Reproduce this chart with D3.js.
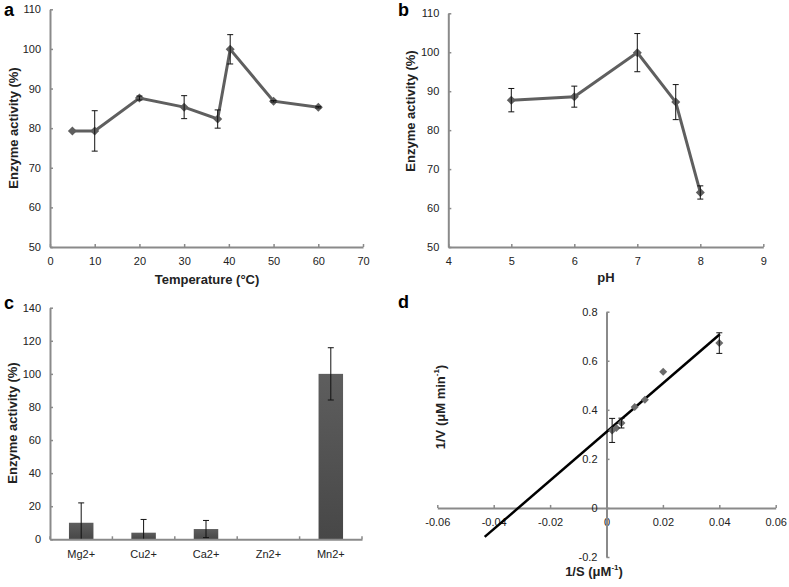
<!DOCTYPE html>
<html><head><meta charset="utf-8">
<script src="https://cdn.jsdelivr.net/npm/d3@7"></script>
<style>
body{margin:0;background:#fff;}
text{font-family:Arial,"Liberation Sans",sans-serif;}
</style></head>
<body>
<svg id="chart" width="789" height="587"></svg>
<script>
// Panel a: temperature
const tempX = [5, 10, 20, 30, 37.5, 40.3, 50, 60];
const tempY = [79.3, 79.3, 87.6, 85.3, 82.3, 99.9, 86.8, 85.3];
const tempErr = [0, 5.1, 0.5, 2.9, 2.3, 3.7, 0.2, 0.2];
const tempTicksX = [0, 10, 20, 30, 40, 50, 60, 70];
const actTicksY = [50, 60, 70, 80, 90, 100, 110];
// Panel b: pH
const phX = [5, 6, 7, 7.61, 8];
const phY = [87.7, 88.6, 99.9, 87.2, 64.0];
const phErr = [3.0, 2.7, 4.9, 4.5, 1.7];
const phTicksX = [4, 5, 6, 7, 8, 9];
// Panel c: metal ions
const ions = ["Mg2+", "Cu2+", "Ca2+", "Zn2+", "Mn2+"];
const ionY = [10, 4, 6.2, 0, 100];
const ionErr = [12, 8, 5.2, 0, 15.8];
const ionTicksY = [0, 20, 40, 60, 80, 100, 120, 140];
// Panel d: Lineweaver-Burk
const lbX = [0.002, 0.0035, 0.0053, 0.010, 0.0136, 0.0201, 0.040];
const lbY = [0.316, 0.326, 0.346, 0.411, 0.441, 0.555, 0.672];
const lbErr = [0.049, 0, 0.02, 0, 0, 0, 0.042];
const lbFitX = [-0.0432, 0.0402];
const lbFitY = [-0.118, 0.708];
const lbTicksX = [-0.06, -0.04, -0.02, 0, 0.02, 0.04, 0.06];
const lbTicksY = [-0.2, 0, 0.2, 0.4, 0.6, 0.8];

const svg = d3.select("#chart");
const AX = "#8a8a8a", TXT = "#222", LINE = "#5f5f5f";

function diamond(r){ return `M0,${-r}L${r},0L0,${r}L${-r},0Z`; }

function styleAxis(g){
  g.select(".domain").attr("stroke", AX).attr("stroke-width", 2);
  g.selectAll(".tick line").attr("stroke", AX).attr("stroke-width", 1.5);
  g.selectAll(".tick text").attr("fill", TXT).style("font-size", "11px").style("font-family", "Arial, 'Liberation Sans', sans-serif");
}

function errBars(g, xs, ys, es, x, y, cap){
  xs.forEach((xv, i) => {
    if (!es[i]) return;
    const px = x(xv), y1 = y(ys[i] + es[i]);
    const lo = y(ys[i] - es[i]) > y.range()[0] ? y.range()[0] : y(ys[i] - es[i]);
    g.append("line").attr("x1", px).attr("x2", px).attr("y1", y1).attr("y2", lo).attr("stroke", "#111").attr("stroke-width", 1);
    g.append("line").attr("x1", px - cap).attr("x2", px + cap).attr("y1", y1).attr("y2", y1).attr("stroke", "#111").attr("stroke-width", 1);
    if (y(ys[i] - es[i]) <= y.range()[0])
      g.append("line").attr("x1", px - cap).attr("x2", px + cap).attr("y1", lo).attr("y2", lo).attr("stroke", "#111").attr("stroke-width", 1);
  });
}

function panelLabel(x, y, t){
  svg.append("text").attr("x", x).attr("y", y).text(t).attr("font-weight", "bold").style("font-size", "18px").attr("fill", "#000");
}
function yTitle(cx, cy, t){
  return svg.append("text").attr("transform", `translate(${cx},${cy}) rotate(-90)`).attr("text-anchor", "middle")
    .attr("dominant-baseline", "central").attr("font-weight", "bold").style("font-size", "13px").attr("fill", TXT).text(t);
}
function xTitle(cx, cy, t){
  return svg.append("text").attr("x", cx).attr("y", cy).attr("text-anchor", "middle")
    .attr("dominant-baseline", "central").attr("font-weight", "bold").style("font-size", "13px").attr("fill", TXT).text(t);
}

function linePanel(xs, ys, es, xTicks, xr, yr, xd){
  const x = d3.scaleLinear().domain(xd).range(xr);
  const y = d3.scaleLinear().domain([50, 110]).range(yr);
  const gx = svg.append("g").attr("transform", `translate(0,${yr[0]})`)
    .call(d3.axisBottom(x).tickValues(xTicks).tickSizeInner(-3).tickSizeOuter(0).tickPadding(10).tickFormat(d3.format("d")));
  styleAxis(gx);
  const gy = svg.append("g").attr("transform", `translate(${xr[0]},0)`)
    .call(d3.axisLeft(y).tickValues(actTicksY).tickSizeInner(-3).tickSizeOuter(0).tickPadding(9));
  styleAxis(gy);
  const g = svg.append("g");
  g.append("path").datum(xs.map((v, i) => [v, ys[i]]))
    .attr("d", d3.line().x(d => x(d[0])).y(d => y(d[1])))
    .attr("fill", "none").attr("stroke", LINE).attr("stroke-width", 3);
  g.selectAll(".m").data(xs).enter().append("path")
    .attr("transform", (d, i) => `translate(${x(d)},${y(ys[i])})`)
    .attr("d", diamond(4.5)).attr("fill", LINE);
  errBars(g, xs, ys, es, x, y, 3);
}

// Panel a
linePanel(tempX, tempY, tempErr, tempTicksX, [50, 363], [247, 9.3], [0, 70]);
panelLabel(4, 16, "a");
yTitle(13, 128, "Enzyme activity (%)");
xTitle(207, 279, "Temperature (°C)");

// Panel b
linePanel(phX, phY, phErr, phTicksX, [448.3, 763.3], [247, 13.3], [4, 9]);
panelLabel(398, 16, "b");
yTitle(410, 111, "Enzyme activity (%)");
xTitle(606, 277, "pH");

// Panel c
{
  const x = d3.scaleBand().domain(ions).range([50, 362]).paddingInner(0).paddingOuter(0);
  const y = d3.scaleLinear().domain([0, 140]).range([539.3, 307.7]);
  const defs = svg.append("defs");
  const grad = defs.append("linearGradient").attr("id", "barg").attr("x1", 0).attr("x2", 0).attr("y1", 0).attr("y2", 1);
  grad.append("stop").attr("offset", "0%").attr("stop-color", "#5e5e5e");
  grad.append("stop").attr("offset", "100%").attr("stop-color", "#474747");
  const g = svg.append("g");
  const bw = 24.5;
  g.selectAll("rect").data(ions).enter().append("rect")
    .attr("x", d => x(d) + x.bandwidth() / 2 - bw / 2)
    .attr("width", bw)
    .attr("y", (d, i) => y(ionY[i]))
    .attr("height", (d, i) => y(0) - y(ionY[i]))
    .attr("fill", "url(#barg)");
  const gx = svg.append("g").attr("transform", `translate(0,${y(0)})`)
    .call(d3.axisBottom(x).tickSize(0).tickPadding(11));
  styleAxis(gx);
  const bounds = ions.map(d => x(d)).concat([x.range()[1]]);
  gx.selectAll(".bt").data(bounds).enter().append("line")
    .attr("x1", d => d).attr("x2", d => d).attr("y1", -3).attr("y2", 0).attr("stroke", AX).attr("stroke-width", 1.5);
  const gy = svg.append("g").attr("transform", `translate(50,0)`)
    .call(d3.axisLeft(y).tickValues(ionTicksY).tickSizeInner(-3).tickSizeOuter(0).tickPadding(9));
  styleAxis(gy);
  const cx = ions.map(d => x(d) + x.bandwidth() / 2);
  ions.forEach((d, i) => {
    if (!ionErr[i]) return;
    const px = cx[i], top = y(ionY[i] + ionErr[i]);
    const lowV = ionY[i] - ionErr[i];
    const bot = y(Math.max(lowV, 0));
    g.append("line").attr("x1", px).attr("x2", px).attr("y1", top).attr("y2", bot).attr("stroke", "#111");
    g.append("line").attr("x1", px - 3).attr("x2", px + 3).attr("y1", top).attr("y2", top).attr("stroke", "#111");
    if (lowV > 0) g.append("line").attr("x1", px - 3).attr("x2", px + 3).attr("y1", bot).attr("y2", bot).attr("stroke", "#111");
  });
  panelLabel(4, 309, "c");
  yTitle(12, 423, "Enzyme activity (%)");
}

// Panel d
{
  const x = d3.scaleLinear().domain([-0.06, 0.06]).range([437.3, 775.7]);
  const y = d3.scaleLinear().domain([-0.2, 0.8]).range([557, 311.7]);
  const hy = s => s.replace("\u2212", "-");
  const gx = svg.append("g").attr("transform", `translate(0,${y(0)})`)
    .call(d3.axisBottom(x).tickValues(lbTicksX).tickSizeInner(-3).tickSizeOuter(0).tickPadding(10).tickFormat(d => d === 0 ? "0" : hy(d3.format(".2f")(d))));
  styleAxis(gx);
  const gy = svg.append("g").attr("transform", `translate(${x(0)},0)`)
    .call(d3.axisLeft(y).tickValues(lbTicksY).tickSizeInner(-3).tickSizeOuter(0).tickPadding(9).tickFormat(d => d === 0 ? "0" : hy(d3.format(".1f")(d))));
  styleAxis(gy);
  const g = svg.append("g");
  g.append("path").datum(lbFitX.map((v, i) => [v, lbFitY[i]]))
    .attr("d", d3.line().x(d => x(d[0])).y(d => y(d[1])))
    .attr("stroke", "#000").attr("stroke-width", 2.5).attr("fill", "none");
  g.selectAll(".m").data(lbX).enter().append("path")
    .attr("transform", (d, i) => `translate(${x(d)},${y(lbY[i])})`)
    .attr("d", diamond(4)).attr("fill", "#6a6a6a");
  lbX.forEach((xv, i) => {
    if (!lbErr[i]) return;
    const px = x(xv), t = y(lbY[i] + lbErr[i]), b = y(lbY[i] - lbErr[i]);
    g.append("line").attr("x1", px).attr("x2", px).attr("y1", t).attr("y2", b).attr("stroke", "#111");
    g.append("line").attr("x1", px - 3).attr("x2", px + 3).attr("y1", t).attr("y2", t).attr("stroke", "#111");
    g.append("line").attr("x1", px - 3).attr("x2", px + 3).attr("y1", b).attr("y2", b).attr("stroke", "#111");
  });
  panelLabel(398, 308, "d");
  const yt = yTitle(440, 407, "");
  yt.append("tspan").text("1/V (μM min");
  yt.append("tspan").attr("dy", "-4").style("font-size", "8px").text("-1");
  yt.append("tspan").attr("dy", "4").text(")");
  const xt = xTitle(594, 571, "");
  xt.append("tspan").text("1/S (μM");
  xt.append("tspan").attr("dy", "-4").style("font-size", "8px").text("-1");
  xt.append("tspan").attr("dy", "4").text(")");
}
</script>
</body></html>
